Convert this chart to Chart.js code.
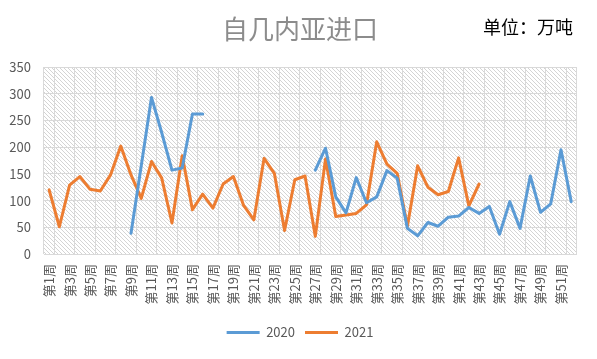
<!DOCTYPE html>
<html>
<head>
<meta charset="utf-8">
<script src="https://cdn.jsdelivr.net/npm/chart.js@4.4.1/dist/chart.umd.min.js"></script>
<style>
  html, body { margin: 0; padding: 0; background: #ffffff; }
  canvas { display: block; }
</style>
</head>
<body>
<canvas id="c" width="597" height="359"></canvas>
<script>
// ---- data ----
const titleText = '自几内亚进口';
const unitText = '单位：万吨';
const seriesNames = ['2020', '2021'];
const weeks = [];
for (let w = 1; w <= 52; w++) weeks.push('第' + w + '周');

const values2020 = [
  null, null, null, null, null, null, null, null,
  39, 165, 293, 227, 157, 161, 262, 262,
  null, null, null, null, null, null, null, null, null, null,
  157, 198, 107, 77, 143, 96, 107, 156, 142, 48,
  34, 59, 52, 69, 71, 87, 76, 89, 37, 98,
  48, 146, 78, 94, 195, 98
];
const values2021 = [
  120, 51, 129, 145, 121, 118, 148, 202, 148, 104,
  173, 142, 58, 184, 83, 112, 86, 131, 145, 91,
  64, 179, 151, 44, 139, 146, 33, 178, 70, 73,
  76, 92, 210, 168, 151, 52, 165, 125, 111, 117,
  180, 90, 131,
  null, null, null, null, null, null, null, null, null
];
const yTicks = [0, 50, 100, 150, 200, 250, 300, 350];

// ---- styles ----
const FONT = '"Noto Sans CJK SC", "Noto Sans", sans-serif';
const GRID = '#d9d9d9';
const TXT = '#595959';

// hatch pattern for plot area
const pc = document.createElement('canvas');
pc.width = 4; pc.height = 4;
const pctx = pc.getContext('2d');
pctx.fillStyle = '#ffffff';
pctx.fillRect(0, 0, 4, 4);
pctx.fillStyle = '#d4d4d4';
for (let i = 0; i < 4; i++) pctx.fillRect(i, i, 1, 1);

const bgPlugin = {
  id: 'bgHatch',
  afterLayout(chart) {
    if (chart.legend) {
      chart.legend.left += 11;
      chart.legend.right += 11;
    }
  },
  beforeDraw(chart) {
    const { ctx, chartArea: a } = chart;
    ctx.save();
    ctx.fillStyle = ctx.createPattern(pc, 'repeat');
    ctx.fillRect(a.left, a.top, a.right - a.left, a.bottom - a.top);
    ctx.restore();
  },
  afterDraw(chart) {
    const ctx = chart.ctx;
    ctx.save();
    ctx.textAlign = 'left';
    ctx.textBaseline = 'middle';
    ctx.fillStyle = '#8c8c8c';
    ctx.font = '26px ' + FONT;
    ctx.fillText(titleText, 222, 29);
    ctx.fillStyle = '#000000';
    ctx.font = '18px ' + FONT;
    ctx.fillText(unitText, 483, 27);
    ctx.restore();
  }
};

new Chart(document.getElementById('c'), {
  type: 'line',
  data: {
    labels: weeks,
    datasets: [
      {
        label: seriesNames[0],
        data: values2020,
        borderColor: '#5b9bd5',
        backgroundColor: '#5b9bd5',
        borderWidth: 3,
        pointRadius: 0,
        tension: 0,
        spanGaps: false,
        borderJoinStyle: 'round',
        borderCapStyle: 'round'
      },
      {
        label: seriesNames[1],
        data: values2021,
        borderColor: '#ed7d31',
        backgroundColor: '#ed7d31',
        borderWidth: 3,
        pointRadius: 0,
        tension: 0,
        spanGaps: false,
        borderJoinStyle: 'round',
        borderCapStyle: 'round'
      }
    ]
  },
  options: {
    responsive: false,
    animation: false,
    layout: { padding: { top: 67, right: 19, left: 0, bottom: 10 } },
    scales: {
      x: {
        type: 'category',
        offset: true,
        grid: {
          offset: true,
          drawTicks: false,
          color: (c) => (c.index === undefined || c.index === 0 || c.index % 2 === 1) ? GRID : 'rgba(0,0,0,0)'
        },
        border: { color: GRID, width: 1 },
        ticks: {
          autoSkip: false,
          minRotation: 90,
          maxRotation: 90,
          padding: 10,
          color: TXT,
          font: { family: FONT, size: 13 },
          callback: (v, i) => (i % 2 === 0 ? weeks[i] : '')
        },
        afterFit: (s) => { s.height = 62; }
      },
      y: {
        min: 0,
        max: 350,
        afterBuildTicks: (s) => { s.ticks = yTicks.map(v => ({ value: v })); },
        grid: { color: GRID, drawTicks: false },
        border: { display: false },
        ticks: {
          padding: 13,
          color: TXT,
          font: { family: FONT, size: 13 }
        },
        afterFit: (s) => { s.width = 44; }
      }
    },
    plugins: {
      title: { display: false },
      tooltip: { enabled: false },
      legend: {
        position: 'bottom',
        labels: {
          boxWidth: 33,
          boxHeight: 3,
          padding: 10,
          color: TXT,
          font: { family: FONT, size: 13 },
          generateLabels: (chart) => Chart.defaults.plugins.legend.labels.generateLabels(chart)
            .map(l => Object.assign(l, { lineWidth: 0, fillStyle: l.strokeStyle }))
        }
      }
    }
  },
  plugins: [bgPlugin]
});
</script>
</body>
</html>
